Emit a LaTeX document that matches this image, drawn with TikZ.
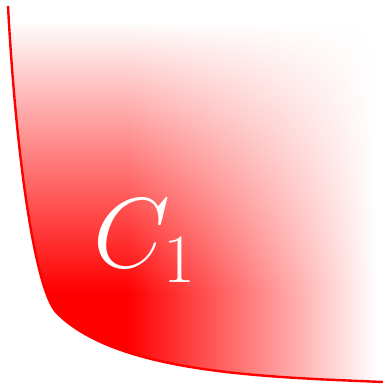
\documentclass[tikz,border=0pt]{standalone}
\usetikzlibrary{fadings}
\definecolor{curveRed}{HTML}{FF0000}
\pgfdeclarehorizontalshading{redToWhite}{100bp}{color(0bp)=(curveRed); color(41bp)=(curveRed); color(74bp)=(white); color(100bp)=(white)}
\pgfdeclareverticalshading{fadeMask}{100bp}{color(0bp)=(white); color(37bp)=(white); color(73bp)=(black); color(100bp)=(black)}
\pgfdeclarefading{fadeUp}{\pgfuseshading{fadeMask}}
\tikzset{
  x=0.25pt, y=0.25pt,
  region/.style={shading=redToWhite, path fading=fadeUp},
  border/.style={draw=curveRed, line width=0.6pt},
  lbl/.style={text=white, font=\fontsize{26}{30}\selectfont, inner sep=0pt},
}
\begin{document}
\begin{tikzpicture}
  \useasboundingbox (0,0) rectangle (383,386);
  % shaded area above the curve
  \shade[region] (8,380) .. controls (16,230) and (35,95) .. (57,73)
    .. controls (117,13) and (263,9) .. (383,4) -- (383,380) -- cycle;
  \draw[border] (8,380) .. controls (16,230) and (35,95) .. (57,73)
    .. controls (117,13) and (263,9) .. (383,4);
  \node[lbl, anchor=base west] (c1) at (93,118) {$C_1$};
\end{tikzpicture}
\end{document}
